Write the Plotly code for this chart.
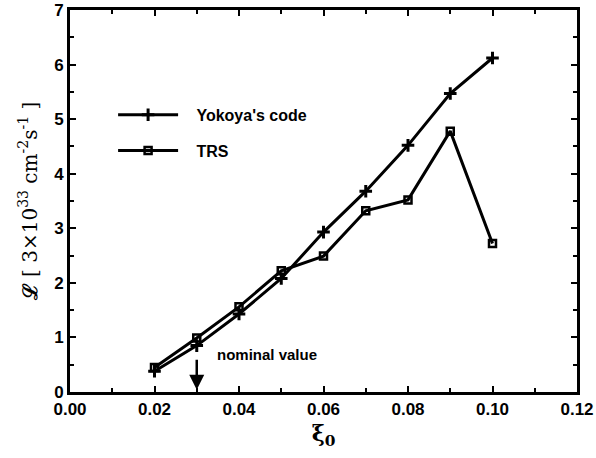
import plotly.graph_objects as go

xi = [0.02, 0.03, 0.04, 0.05, 0.06, 0.07, 0.08, 0.09, 0.10]
yokoya = [0.38, 0.85, 1.43, 2.08, 2.93, 3.68, 4.52, 5.47, 6.12]
trs = [0.45, 0.99, 1.56, 2.22, 2.49, 3.32, 3.52, 4.78, 2.72]

fig = go.Figure()
fig.add_trace(go.Scatter(x=xi, y=yokoya, mode="lines+markers", name="   <b>Yokoya's code</b>",
                         legendgroup="a",
                         line=dict(color="black", width=3),
                         marker=dict(symbol="cross-thin", size=9, color="black",
                                     line=dict(color="black", width=3))))
fig.add_trace(go.Scatter(x=xi, y=trs, mode="lines+markers", name="   <b>TRS</b>",
                         legendgroup="b",
                         line=dict(color="black", width=3),
                         marker=dict(symbol="square-open", size=7, color="black",
                                     line=dict(color="black", width=2.5))))

fig.add_annotation(x=0.03, y=0.04, ax=0.03, ay=0.62, axref="x", ayref="y",
                   xref="x", yref="y", showarrow=True, arrowhead=2, arrowsize=1.2,
                   arrowwidth=2.5, arrowcolor="black", text="")
fig.add_annotation(x=0.0343, y=0.68, xref="x", yref="y", text="<b>nominal value</b>",
                   showarrow=False, xanchor="left", yanchor="middle",
                   font=dict(family="Liberation Sans", size=15, color="black"))

axis_common = dict(showline=True, linecolor="black", linewidth=3, mirror="ticks",
                   ticks="inside", ticklen=6, tickwidth=2, tickcolor="black",
                   showgrid=False, zeroline=False, automargin=False,
                   tickfont=dict(family="Liberation Sans", size=17, color="black"))

fig.update_xaxes(range=[0, 0.12], tickvals=[0, 0.02, 0.04, 0.06, 0.08, 0.10, 0.12],
                 ticktext=["<b>0.00</b>", "<b>0.02</b>", "<b>0.04</b>", "<b>0.06</b>",
                           "<b>0.08</b>", "<b>0.10</b>", "<b>0.12</b>"],
                 minor=dict(dtick=0.01, ticks="inside", ticklen=4, tickwidth=2, tickcolor="black"),
                 title=dict(text="<b>ξ<sub>0</sub></b>", font=dict(family="DejaVu Serif", size=22, color="black"),
                            standoff=8),
                 **axis_common)
fig.update_yaxes(range=[0, 7], tickvals=[0, 1, 2, 3, 4, 5, 6, 7],
                 ticktext=["<b>%d</b>" % v for v in range(8)],
                 minor=dict(dtick=0.5, ticks="inside", ticklen=4, tickwidth=2, tickcolor="black"),
                 title=dict(text="<b>ℒ</b> [ 3×10<sup>33</sup> cm<sup>-2</sup>s<sup>-1</sup> ]",
                            font=dict(family="DejaVu Serif", size=20, color="black"), standoff=12),
                 **axis_common)

fig.update_layout(width=596, height=458, margin=dict(l=70, r=19, t=10, b=66),
                  plot_bgcolor="white", paper_bgcolor="white", showlegend=True,
                  legend=dict(x=0.085, y=0.77, xanchor="left", yanchor="top",
                              bgcolor="rgba(0,0,0,0)", itemwidth=60, tracegroupgap=12,
                              font=dict(family="Liberation Sans", size=16, color="black")))
fig.write_html("out.html", config={"displayModeBar": False},
               post_script="document.body.style.margin='0';")
